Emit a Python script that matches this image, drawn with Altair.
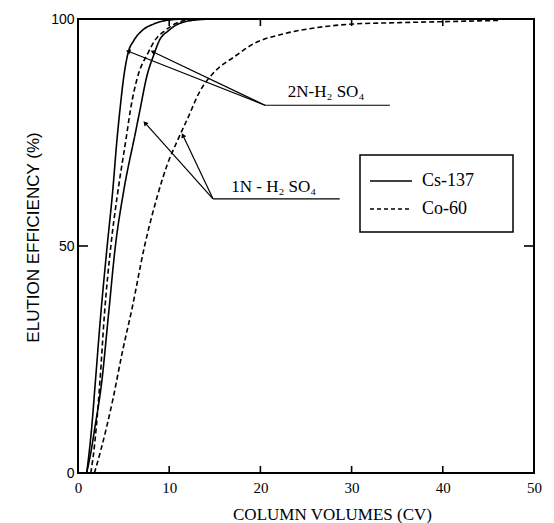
import math
import altair as alt
import pandas as pd

# ---------------- data ----------------
series_names = ["Cs-137", "Co-60"]

cs_2n_x = [0.95, 1.25, 1.5, 1.9, 2.5, 3.2, 3.8, 4.3, 4.6, 5.0, 5.5, 6.1, 7.0, 8.3, 10.1, 12.0, 50.0]
cs_2n_y = [0, 5, 10, 20, 35, 50, 62, 74, 80, 87, 92.6, 95.2, 97.4, 98.9, 99.8, 100, 100]

co_2n_x = [1.4, 1.75, 2.0, 2.4, 2.9, 3.6, 4.3, 5.3, 5.75, 6.5, 7.7, 8.4, 9.5, 10.6, 12.0, 14.0, 50.0]
co_2n_y = [0, 5, 10, 20, 35, 50, 61, 74, 80, 87, 92.6, 95.2, 97.4, 98.9, 99.8, 100, 100]

cs_1n_x = [0.95, 1.45, 1.85, 2.6, 3.35, 4.1, 5.0, 6.3, 6.8, 7.5, 8.4, 8.9, 9.9, 11.0, 13.0, 15.0, 50.0]
cs_1n_y = [0, 5, 10, 20, 35, 50, 62, 75, 80, 87, 92.6, 95.2, 97.4, 98.9, 99.8, 100, 100]

co_1n_x = [1.8, 2.5, 3.8, 4.9, 5.9, 7.3, 8.7, 9.8, 10.9, 12.0, 13.4, 14.8, 17.3, 19.2, 22.5, 26.2, 30.2, 35.3, 42.0, 46.3]
co_1n_y = [0, 5, 16, 27, 36, 50, 61, 68, 73.2, 78, 84.2, 88, 91.9, 94.5, 96.7, 98.1, 98.9, 99.2, 99.5, 99.7]

x_tick_values = [0, 10, 20, 30, 40, 50]
y_tick_values = [0, 50, 100]
inner_x_ticks = [10, 20, 30, 40]
inner_y_ticks = [50]

# annotation: label, corner (x, y), underline end x, arrow tips
ann_labels = ["2N-H\u2082 SO\u2084", "1N - H\u2082 SO\u2084"]
ann_corner_x = [20.5, 14.8]
ann_corner_y = [81.0, 60.4]
ann_end_x = [34.2, 28.7]
ann_text_x = [23.0, 16.8]
ann_text_y = [84.0, 63.0]
ann_tips = [[(5.5, 92.9), (8.2, 92.8)], [(7.35, 77.1), (11.5, 74.4)]]

# ---------------- layout ----------------
W, H = 456, 454
SX, SY = W / 50.0, H / 100.0
SERIF = "Liberation Serif"
SANS = "Liberation Sans"

rows = []
for cid, (xs_, ys_, iso) in enumerate([
    (cs_2n_x, cs_2n_y, "Cs-137"),
    (co_2n_x, co_2n_y, "Co-60"),
    (cs_1n_x, cs_1n_y, "Cs-137"),
    (co_1n_x, co_1n_y, "Co-60"),
]):
    for i, (x, y) in enumerate(zip(xs_, ys_)):
        rows.append({"curve": cid, "iso": iso, "x": x, "y": y, "o": i})
curves = pd.DataFrame(rows)

xs = alt.Scale(domain=[0, 50], nice=False, zero=False)
ys = alt.Scale(domain=[0, 100], nice=False, zero=False)

base_x = alt.X("x:Q", scale=xs, axis=alt.Axis(
    values=x_tick_values, tickSize=0, domain=False, grid=False, labelFlush=False,
    labelFont=SERIF, labelFontSize=15, labelPadding=7, labelColor="black",
    title="COLUMN VOLUMES (CV)", titleFont=SERIF, titleFontSize=17,
    titleFontWeight="normal", titleColor="black", titleX=254, titleY=46,
    titleAlign="center", titleBaseline="alphabetic"))
base_y = alt.Y("y:Q", scale=ys, axis=alt.Axis(
    values=y_tick_values, tickSize=0, domain=False, grid=False,
    labelFont=SANS, labelFontSize=14, labelPadding=4, labelColor="black",
    title="ELUTION EFFICIENCY (%)", titleFont=SANS, titleFontSize=17,
    titleFontWeight="normal", titleColor="black", titleX=-45, titleY=218,
    titleAlign="center", titleBaseline="middle", titleAngle=270))

lines = alt.Chart(curves).mark_line(color="black", strokeWidth=1.6, interpolate="monotone").encode(
    x=base_x, y=base_y,
    detail="curve:N", order="o:Q",
    strokeDash=alt.StrokeDash("iso:N", scale=alt.Scale(
        domain=series_names, range=[[1, 0], [5, 3]]), legend=None),
)

# inward tick marks (bottom/top and left/right)
tick_rows = []
tl_x = 7.0 / SY  # 7 px in y-units
tl_y = 10.0 / SX  # 10 px in x-units
for v in inner_x_ticks:
    tick_rows.append({"x": v, "x2": v, "y": 0, "y2": tl_x})
    tick_rows.append({"x": v, "x2": v, "y": 100, "y2": 100 - tl_x})
for v in inner_y_ticks:
    tick_rows.append({"x": 0, "x2": tl_y, "y": v, "y2": v})
    tick_rows.append({"x": 50, "x2": 50 - tl_y, "y": v, "y2": v})
ticks = alt.Chart(pd.DataFrame(tick_rows)).mark_rule(color="black", strokeWidth=1.6).encode(
    x=alt.X("x:Q", scale=xs), x2="x2:Q", y=alt.Y("y:Q", scale=ys), y2="y2:Q")

# annotation leader lines
seg_rows = []
head_rows = []
for k in range(len(ann_labels)):
    cx, cy = ann_corner_x[k], ann_corner_y[k]
    seg_rows.append({"x": cx, "y": cy, "x2": ann_end_x[k], "y2": cy})
    for (tx, ty) in ann_tips[k]:
        seg_rows.append({"x": cx, "y": cy, "x2": tx, "y2": ty})
        dx = (tx - cx) * SX
        dy = -(ty - cy) * SY
        ang = math.degrees(math.atan2(dx, -dy)) % 360
        head_rows.append({"x": tx, "y": ty, "ang": ang})
segs = alt.Chart(pd.DataFrame(seg_rows)).mark_rule(color="black", strokeWidth=1.2).encode(
    x=alt.X("x:Q", scale=xs), x2="x2:Q", y=alt.Y("y:Q", scale=ys), y2="y2:Q")
heads = alt.Chart(pd.DataFrame(head_rows)).mark_point(
    shape="triangle-up", filled=True, color="black", size=28, opacity=1).encode(
    x=alt.X("x:Q", scale=xs), y=alt.Y("y:Q", scale=ys),
    angle=alt.Angle("ang:Q", scale=None))

ann_df = pd.DataFrame({"x": ann_text_x, "y": ann_text_y, "t": ann_labels})
ann_text = alt.Chart(ann_df).mark_text(
    font=SERIF, fontSize=17, align="left", baseline="middle", color="black").encode(
    x=alt.X("x:Q", scale=xs), y=alt.Y("y:Q", scale=ys), text="t:N")

# legend box (drawn in pixel space of the plot area)
one = pd.DataFrame({"k": [0]})
leg_box = alt.Chart(one).mark_rect(fill="white", stroke="black", strokeWidth=1.5).encode(
    x=alt.value(282), x2=alt.value(435), y=alt.value(136), y2=alt.value(213))
leg_solid = alt.Chart(one).mark_rule(color="black", strokeWidth=1.6).encode(
    x=alt.value(292), x2=alt.value(334), y=alt.value(162))
leg_dash = alt.Chart(one).mark_rule(color="black", strokeWidth=1.6, strokeDash=[4, 3]).encode(
    x=alt.value(292), x2=alt.value(334), y=alt.value(190))
leg_t1 = alt.Chart(one).mark_text(text=series_names[0], font=SERIF, fontSize=18,
                                  align="left", baseline="middle", color="black").encode(
    x=alt.value(344), y=alt.value(162))
leg_t2 = alt.Chart(one).mark_text(text=series_names[1], font=SERIF, fontSize=18,
                                  align="left", baseline="middle", color="black").encode(
    x=alt.value(344), y=alt.value(190))

chart = alt.layer(
    lines, ticks, segs, heads, ann_text, leg_box, leg_solid, leg_dash, leg_t1, leg_t2
).properties(
    width=W, height=H,
    autosize=alt.AutoSizeParams(type="none"),
    padding={"left": 78, "top": 19, "right": 554 - 78 - W, "bottom": 523 - 19 - H},
    background="white",
).configure_view(stroke="black", strokeWidth=2)

chart.save("out.html", embed_options={"renderer": "svg", "actions": False})
